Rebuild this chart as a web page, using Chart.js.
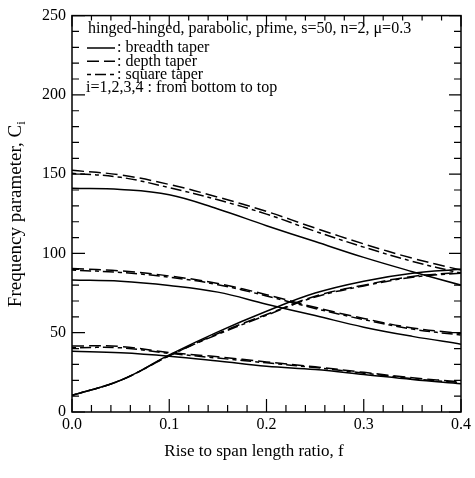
<!DOCTYPE html>
<html>
<head>
<meta charset="utf-8">
<script src="https://cdn.jsdelivr.net/npm/chart.js@4.4.0/dist/chart.umd.min.js"></script>
<style>
  html, body { margin: 0; padding: 0; background: #fff; }
  #wrap { width: 475px; height: 478px; }
</style>
</head>
<body>
<div id="wrap"><canvas id="chart" width="475" height="478"></canvas></div>
<script>
// rise to span ratio f
var fVals = [0, 0.05, 0.1, 0.15, 0.2, 0.25, 0.3, 0.35, 0.4];

// rising branch (starts near 10)
var riseBreadth = [10.5, 20, 36, 50.5, 63.5, 75, 82.5, 87.5, 90];
var riseDepth = [10.5, 20, 35.5, 49.5, 61.5, 73, 80, 85.5, 88];
var riseSquare = [10.5, 20, 35.5, 49, 61, 72.5, 79.5, 85, 87.5];

// lower falling branch
var lowBreadth = [38.3, 37.3, 35.2, 32.2, 28.9, 26.8, 23.7, 20.5, 17.8];
var lowDepth = [41.7, 41.3, 37.5, 34.8, 31.6, 28.5, 25, 21.6, 19];
var lowSquare = [40.5, 40.5, 37, 34, 31, 28, 24.5, 21, 18.5];

// middle falling branch
var midBreadth = [83.3, 82.5, 79.8, 75.6, 68, 60.8, 53.5, 47.7, 42.8];
var midDepth = [90.5, 89, 85.8, 81, 74, 66, 59, 53, 49.5];
var midSquare = [89.5, 88, 85, 80.3, 73.2, 65.3, 58.3, 52.3, 48.5];

// upper falling branch
var topBreadth = [141.1, 140.3, 137, 128, 117.5, 107.5, 97.5, 88.5, 80];
var topDepth = [152.4, 149.5, 143.5, 135.5, 126.5, 116, 106, 97, 89.5];
var topSquare = [150.5, 148, 141.5, 133.8, 124.8, 114, 104, 95, 87.5];

var legendHeader = 'hinged-hinged, parabolic, prime, s=50, n=2, \u03bc=0.3';
var legendItems = [': breadth taper', ': depth taper', ': square taper'];
var legendFooter = 'i=1,2,3,4 : from bottom to top';

var xTitle = 'Rise to span length ratio, f';
var yTitle = 'Frequency parameter, C';

var DASH_BREADTH = [];
var DASH_DEPTH = [12, 5];
var DASH_SQUARE = [4, 4, 11, 4];

var serif = '"Liberation Serif", "DejaVu Serif", serif';

function pts(ys) {
  return ys.map(function (y, i) { return { x: fVals[i], y: y }; });
}

function series(ys, dash) {
  return {
    data: pts(ys),
    borderColor: '#000',
    borderWidth: 1.5,
    borderDash: dash,
    pointRadius: 0,
    fill: false,
    tension: 0.4
  };
}

var datasets = [
  series(riseBreadth, DASH_BREADTH), series(riseDepth, DASH_DEPTH), series(riseSquare, DASH_SQUARE),
  series(lowBreadth, DASH_BREADTH), series(lowDepth, DASH_DEPTH), series(lowSquare, DASH_SQUARE),
  series(midBreadth, DASH_BREADTH), series(midDepth, DASH_DEPTH), series(midSquare, DASH_SQUARE),
  series(topBreadth, DASH_BREADTH), series(topDepth, DASH_DEPTH), series(topSquare, DASH_SQUARE)
];

// box, inward ticks, axis titles and in-plot legend
var frame = {
  id: 'frame',
  afterDraw: function (chart) {
    var ctx = chart.ctx;
    var a = chart.chartArea;
    var xs = chart.scales.x, ys = chart.scales.y;
    ctx.save();
    ctx.strokeStyle = '#000';
    ctx.lineWidth = 1.5;
    ctx.setLineDash([]);
    ctx.strokeRect(a.left, a.top, a.right - a.left, a.bottom - a.top);

    ctx.lineWidth = 1.2;
    ctx.beginPath();
    var i, v, p, major;
    for (i = 0; i <= 20; i++) {
      v = i * 0.02;
      p = xs.getPixelForValue(v);
      major = i % 5 === 0;
      ctx.moveTo(p, a.bottom); ctx.lineTo(p, a.bottom - (major ? 13 : 7));
      ctx.moveTo(p, a.top); ctx.lineTo(p, a.top + (major ? 11 : 5));
    }
    for (i = 0; i <= 25; i++) {
      v = i * 10;
      p = ys.getPixelForValue(v);
      major = i % 5 === 0;
      ctx.moveTo(a.left, p); ctx.lineTo(a.left + (major ? 13 : 7), p);
      ctx.moveTo(a.right, p); ctx.lineTo(a.right - (major ? 12 : 7), p);
    }
    ctx.stroke();

    ctx.fillStyle = '#000';
    ctx.font = '17px ' + serif;
    ctx.textAlign = 'center';
    ctx.textBaseline = 'middle';
    ctx.fillText(xTitle, 254, 452);

    ctx.save();
    ctx.translate(16, 213);
    ctx.rotate(-Math.PI / 2);
    ctx.textAlign = 'left';
    ctx.font = '19px ' + serif;
    var w = ctx.measureText(yTitle).width;
    ctx.fillText(yTitle, -(w + 6) / 2, 0);
    ctx.font = '13px ' + serif;
    ctx.fillText('i', -(w + 6) / 2 + w, 6);
    ctx.restore();

    ctx.font = '16px ' + serif;
    ctx.textAlign = 'left';
    ctx.fillText(legendHeader, 88, 29);
    var dashes = [DASH_BREADTH, DASH_DEPTH, DASH_SQUARE];
    for (i = 0; i < legendItems.length; i++) {
      var y = 48 + i * 13.3;
      ctx.setLineDash(dashes[i]);
      ctx.lineWidth = 1.5;
      ctx.beginPath();
      ctx.moveTo(87, y); ctx.lineTo(115, y);
      ctx.stroke();
      ctx.setLineDash([]);
      ctx.fillText(legendItems[i], 117, y);
    }
    ctx.fillText(legendFooter, 86, 88);
    ctx.restore();
  }
};

new Chart(document.getElementById('chart'), {
  type: 'line',
  data: { datasets: datasets },
  options: {
    responsive: false,
    animation: false,
    layout: { padding: { top: 14, right: 14, left: 0, bottom: 0 } },
    plugins: { legend: { display: false }, tooltip: { enabled: false } },
    scales: {
      x: {
        type: 'linear',
        min: 0,
        max: 0.4,
        grid: { display: false, drawTicks: false },
        border: { display: false },
        ticks: {
          stepSize: 0.1,
          padding: 3,
          color: '#000',
          font: { family: serif, size: 16 },
          callback: function (v) { return v.toFixed(1); }
        },
        afterFit: function (s) { s.height = 66; }
      },
      y: {
        min: 0,
        max: 250,
        grid: { display: false, drawTicks: false },
        border: { display: false },
        ticks: {
          stepSize: 50,
          padding: 6,
          color: '#000',
          font: { family: serif, size: 16 }
        },
        afterFit: function (s) { s.width = 72; }
      }
    }
  },
  plugins: [frame]
});
</script>
</body>
</html>
